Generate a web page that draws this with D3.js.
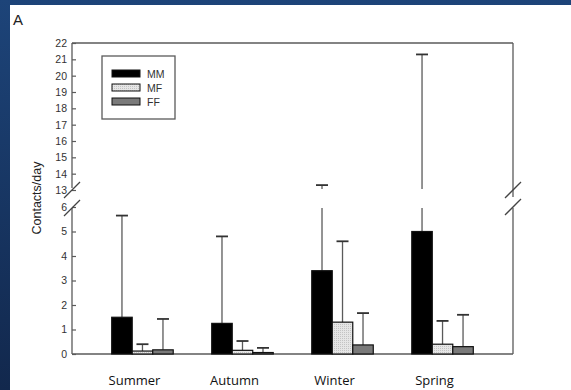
<!DOCTYPE html>
<html><head><meta charset="utf-8">
<script src="https://cdn.jsdelivr.net/npm/d3@7"></script>
<style>html,body{margin:0;padding:0;background:#fff;}svg{display:block;}</style>
</head><body>
<svg id="c" width="571" height="390"></svg>
<script>
const seasons = ["Summer","Autumn","Winter","Spring"];
const series = ["MM","MF","FF"];
const meanMM = [1.5, 1.25, 3.4, 5.0];
const meanMF = [0.12, 0.15, 1.3, 0.4];
const meanFF = [0.17, 0.06, 0.37, 0.3];
const errMM = [5.65, 4.8, 13.3, 21.3];
const errMF = [0.4, 0.53, 4.6, 1.35];
const errFF = [1.43, 0.25, 1.67, 1.6];
const lowTicks = [0,1,2,3,4,5,6];
const highTicks = [13,14,15,16,17,18,19,20,21,22];

const svg = d3.select("#c");
const defs = svg.append("defs");
const g1 = defs.append("linearGradient").attr("id","bl").attr("x1",0).attr("y1",0).attr("x2",0).attr("y2",1);
g1.append("stop").attr("offset","0%").attr("stop-color","#1d4479");
g1.append("stop").attr("offset","100%").attr("stop-color","#12284d");
svg.append("rect").attr("x",0).attr("y",0).attr("width",571).attr("height",390).attr("fill","url(#bl)");
svg.append("rect").attr("x",10).attr("y",5).attr("width",561).attr("height",385).attr("fill","#fff");

const pat = defs.append("pattern").attr("id","dots").attr("width",2).attr("height",2).attr("patternUnits","userSpaceOnUse");
pat.append("rect").attr("width",2).attr("height",2).attr("fill","#e6e6e6");
pat.append("rect").attr("width",1).attr("height",1).attr("fill","#c4c4c4");

const L = 72, R = 513, B = 354, T = 43;
const yLow = d3.scaleLinear().domain([0,6]).range([B, 207]);
const yHigh = d3.scaleLinear().domain([13,22]).range([190, T]);
const yv = v => v <= 6 ? yLow(v) : yHigh(v);

const x0 = d3.scaleBand().domain(seasons).range([L,R]).paddingInner(0.385).paddingOuter(0.397);
const x1 = d3.scaleBand().domain(series).range([0, x0.bandwidth()]).padding(0);

const lineCol = "#5a5a5a";
const fills = {MM:"#000", MF:"url(#dots)", FF:"#7a7a7a"};
const means = {MM:meanMM, MF:meanMF, FF:meanFF};
const errs = {MM:errMM, MF:errMF, FF:errFF};

svg.append("text").attr("x",13).attr("y",25).attr("font-family","Liberation Sans, Arial").attr("font-size",15).attr("fill","#222").text("A");

const axLow = d3.axisLeft(yLow).tickValues(lowTicks).tickFormat(d3.format("d")).tickSizeInner(-4).tickSizeOuter(0).tickPadding(5);
const axHigh = d3.axisLeft(yHigh).tickValues(highTicks).tickFormat(d3.format("d")).tickSizeInner(-4).tickSizeOuter(0).tickPadding(5);
[axLow, axHigh].forEach(ax => {
  const g = svg.append("g").attr("transform",`translate(${L},0)`).call(ax);
  g.select(".domain").remove();
  g.selectAll("line").attr("stroke",lineCol).attr("stroke-width",1.2);
  g.selectAll("text").attr("font-family","Liberation Sans, Arial").attr("font-size",10.5).attr("fill","#333");
});

const fr = svg.append("g").attr("stroke",lineCol).attr("stroke-width",1.3).attr("fill","none");
fr.append("line").attr("x1",L).attr("x2",L).attr("y1",T).attr("y2",yHigh(13)-2);
fr.append("line").attr("x1",L).attr("x2",L).attr("y1",yLow(6)+1).attr("y2",B);
fr.append("line").attr("x1",R).attr("x2",R).attr("y1",T).attr("y2",yHigh(13)+7);
fr.append("line").attr("x1",R).attr("x2",R).attr("y1",yLow(6)+1).attr("y2",B);
fr.append("line").attr("x1",L).attr("x2",R).attr("y1",T).attr("y2",T);
fr.append("line").attr("x1",L).attr("x2",R).attr("y1",B).attr("y2",B);
const slash = (cx, cy) => fr.append("line").attr("x1",cx-8).attr("y1",cy+8).attr("x2",cx+8).attr("y2",cy-8).attr("stroke","#444");
slash(L, yHigh(13)); slash(L, yLow(6)+1);
slash(R, yHigh(13)); slash(R, yLow(6));

const gb = svg.append("g");
seasons.forEach((s,i) => {
  series.forEach(k => {
    const x = x0(s) + x1(k), w = x1.bandwidth();
    const v = means[k][i], e = errs[k][i];
    const cx = x + w/2;
    const eg = gb.append("g").attr("stroke",lineCol).attr("stroke-width",1.3);
    if (e <= 6) {
      eg.append("line").attr("x1",cx).attr("x2",cx).attr("y1",yv(v)).attr("y2",yv(e));
    } else {
      eg.append("line").attr("x1",cx).attr("x2",cx).attr("y1",yv(v)).attr("y2",yLow(6)+1);
      eg.append("line").attr("x1",cx).attr("x2",cx).attr("y1",yHigh(13)-1).attr("y2",yv(e));
    }
    eg.append("line").attr("x1",cx-6).attr("x2",cx+6).attr("y1",yv(e)).attr("y2",yv(e)).attr("stroke","#333").attr("stroke-width",1.8);
    gb.append("rect").attr("x",x).attr("y",yv(v)).attr("width",w).attr("height",B - yv(v))
      .attr("fill",fills[k]).attr("stroke","#111").attr("stroke-width",1.2);
  });
});

svg.append("g").selectAll("text").data(seasons).join("text")
  .attr("x", d => x0(d) + x0.bandwidth()/2 - 8).attr("y",385)
  .attr("text-anchor","middle").attr("font-family","Open Sans, sans-serif").attr("font-size",13).attr("fill","#111")
  .text(d => d);

svg.append("text").attr("transform","translate(41,198) rotate(-90)").attr("text-anchor","middle")
  .attr("font-family","Liberation Sans, Arial").attr("font-size",12.5).attr("fill","#222").text("Contacts/day");

const lg = svg.append("g");
lg.append("rect").attr("x",102).attr("y",56).attr("width",73).attr("height",63).attr("fill","#fff").attr("stroke",lineCol).attr("stroke-width",1.3);
series.forEach((k,j) => {
  const yy = 70 + j*14;
  lg.append("rect").attr("x",112).attr("y",yy).attr("width",28).attr("height",7).attr("fill",fills[k]).attr("stroke","#111").attr("stroke-width",1);
  lg.append("text").attr("x",147).attr("y",yy+7.5).attr("font-family","Liberation Sans, Arial").attr("font-size",10.5).attr("fill","#333").text(k);
});
</script>
</body></html>
